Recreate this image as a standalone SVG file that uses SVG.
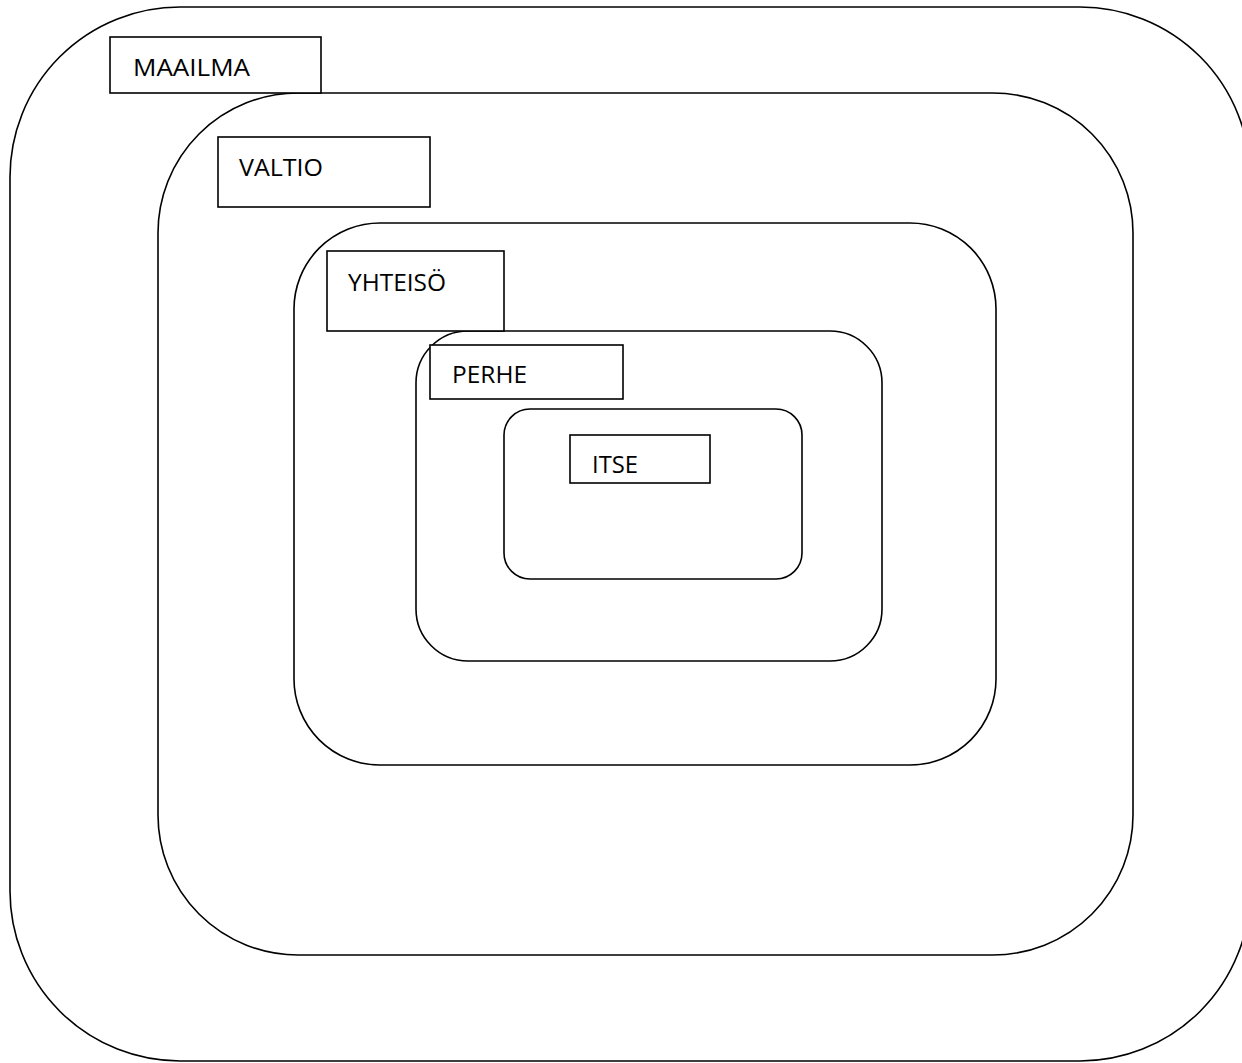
<svg xmlns="http://www.w3.org/2000/svg" width="1242" height="1063" viewBox="0 0 1242 1063">
<style>
.ring{fill:none;stroke:#000;stroke-width:1.6}
.box{fill:#fff;stroke:#000;stroke-width:1.6}
.lbl{font-family:"Open Sans","Liberation Sans",sans-serif;font-size:24px;fill:#000}
</style>
<rect width="1242" height="1063" fill="#fff"/>
<g id="maailma">
<rect class="ring" x="10" y="7" width="1240" height="1054" rx="170" ry="170"/>
</g>
<g id="valtio">
<rect class="ring" x="158" y="93" width="975" height="862" rx="140" ry="140"/>
</g>
<g id="yhteiso">
<rect class="ring" x="294" y="223" width="702" height="542" rx="86" ry="86"/>
</g>
<g id="perhe">
<rect class="ring" x="416" y="331" width="466" height="330" rx="52" ry="52"/>
</g>
<g id="itse">
<rect class="ring" x="504" y="409" width="298" height="170" rx="26" ry="26"/>
</g>
<g id="label-maailma">
<rect class="box" x="110" y="37" width="211" height="56"/>
<text class="lbl" x="133" y="76" textLength="117" lengthAdjust="spacingAndGlyphs">MAAILMA</text>
</g>
<g id="label-valtio">
<rect class="box" x="218" y="137" width="212" height="70"/>
<text class="lbl" x="239" y="176" textLength="84" lengthAdjust="spacingAndGlyphs">VALTIO</text>
</g>
<g id="label-yhteiso">
<rect class="box" x="327" y="251" width="177" height="80"/>
<text class="lbl" x="348" y="291" textLength="98" lengthAdjust="spacingAndGlyphs">YHTEISÖ</text>
</g>
<g id="label-perhe">
<rect class="box" x="430" y="345" width="193" height="54"/>
<text class="lbl" x="452" y="383" textLength="75" lengthAdjust="spacingAndGlyphs">PERHE</text>
</g>
<g id="label-itse">
<rect class="box" x="570" y="435" width="140" height="48"/>
<text class="lbl" x="592" y="473" textLength="46" lengthAdjust="spacingAndGlyphs">ITSE</text>
</g>
<g id="connectors"></g>
</svg>
